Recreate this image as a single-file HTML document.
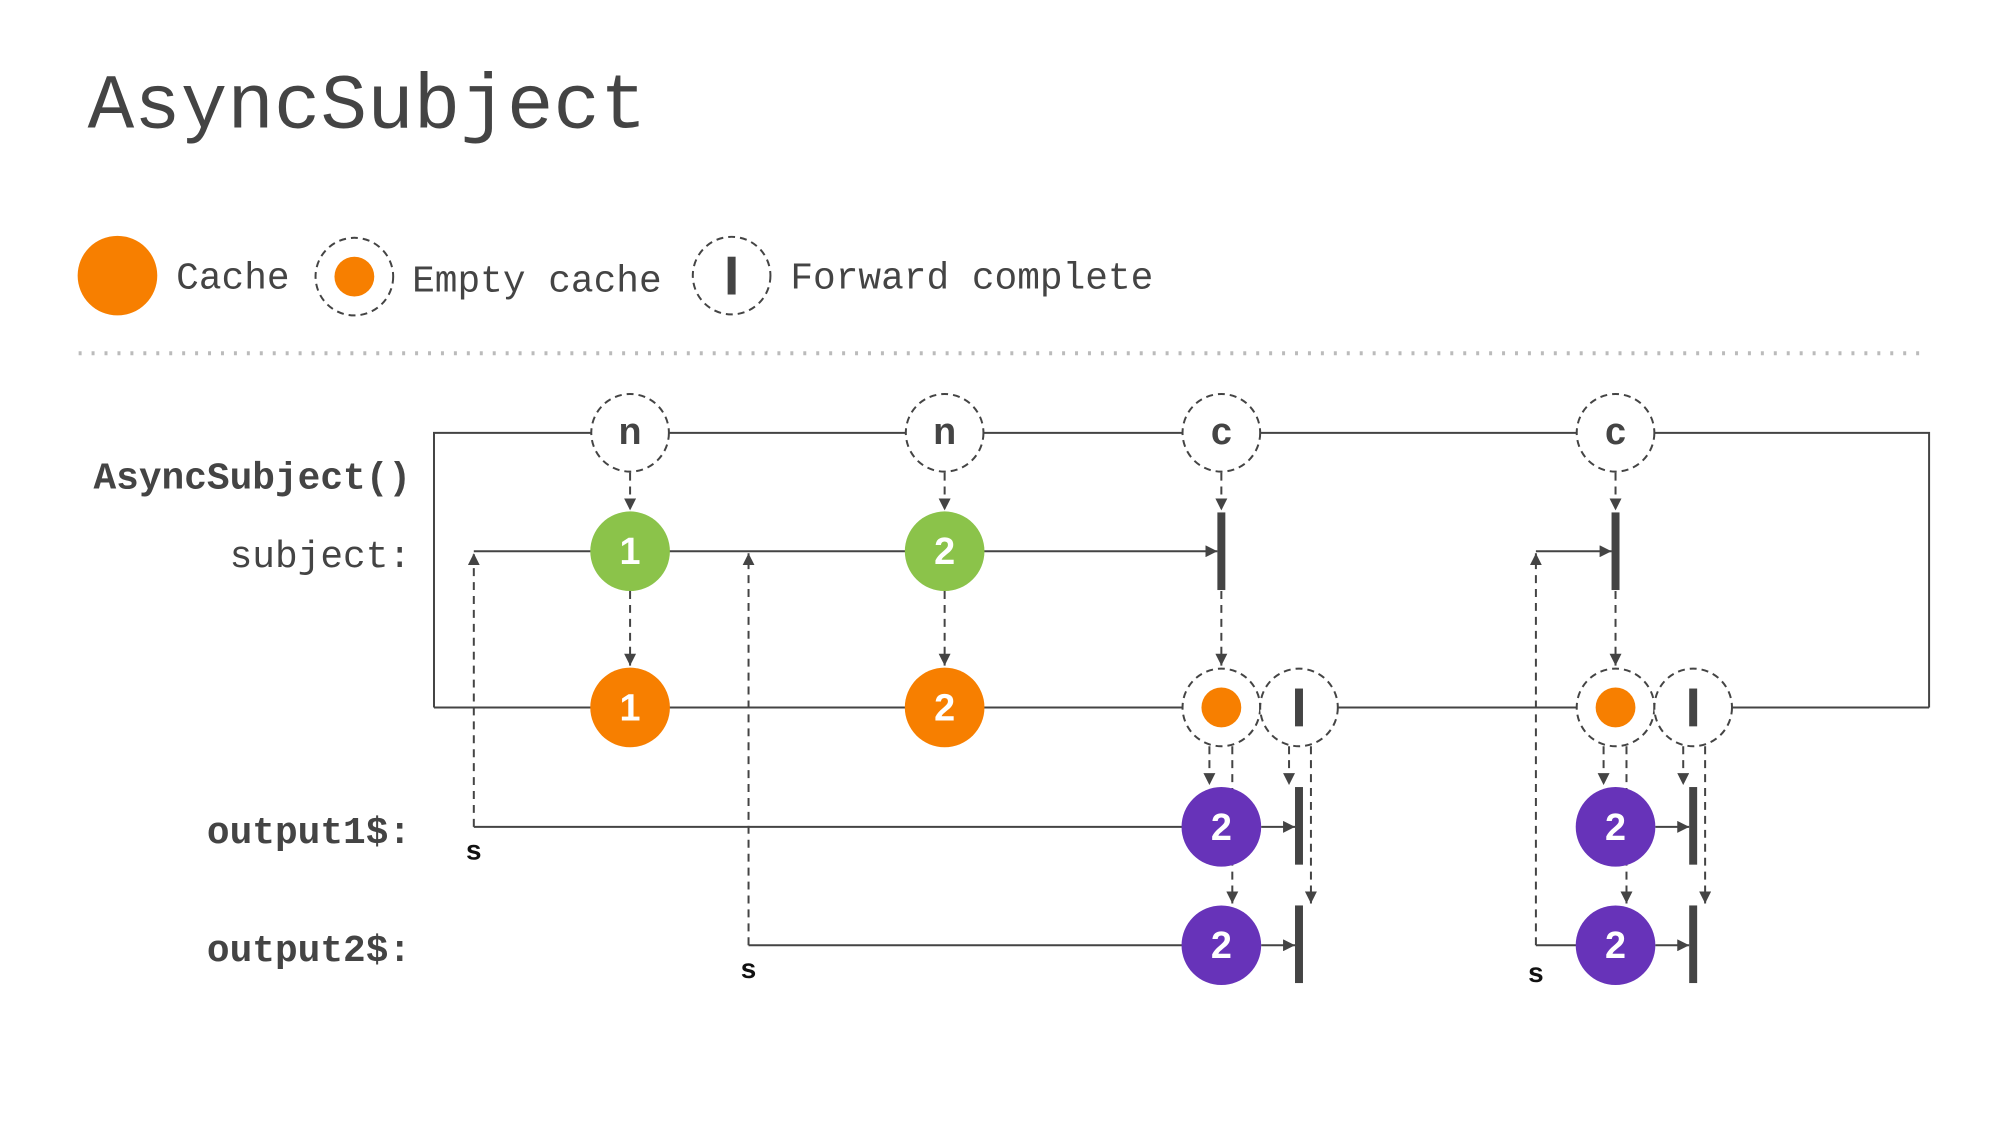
<!DOCTYPE html>
<html><head><meta charset="utf-8"><style>
html,body{margin:0;padding:0;background:#fff;}
svg{display:block;}
text{font-family:"Liberation Mono",monospace;}
</style></head><body>
<svg width="2000" height="1125" viewBox="0 0 2000 1125" xmlns="http://www.w3.org/2000/svg">
<defs>
<marker id="a" viewBox="0 0 10 10" refX="10" refY="5" markerWidth="12" markerHeight="12" markerUnits="userSpaceOnUse" orient="auto"><path d="M0,0L10,5L0,10z" fill="#444"/></marker>
</defs>
<g transform="scale(0.9954,0.995)">
<text x="88" y="128" font-size="78" fill="#444">AsyncSubject</text>
<circle cx="118" cy="277" r="40" fill="#f77f00"/>
<text x="177" y="290" font-size="38" fill="#444">Cache</text>
<circle cx="356" cy="278" r="39" fill="none" stroke="#444" stroke-width="2" stroke-dasharray="7,5"/>
<circle cx="356" cy="278" r="20" fill="#f77f00"/>
<text x="414" y="293" font-size="38" fill="#444">Empty cache</text>
<circle cx="735" cy="277" r="39" fill="none" stroke="#444" stroke-width="2" stroke-dasharray="7,5"/>
<rect x="731" y="258" width="8" height="38" fill="#444"/>
<text x="794" y="290" font-size="38" fill="#444">Forward complete</text>
<line x1="79" y1="355" x2="1938" y2="355" stroke="#bbb" stroke-width="4" stroke-dasharray="3,10"/>
<g font-size="38" fill="#444" text-anchor="end">
<text x="413" y="491" font-weight="bold">AsyncSubject()</text>
<text x="413" y="570">subject:</text>
<text x="413" y="847" font-weight="bold">output1$:</text>
<text x="413" y="966" font-weight="bold">output2$:</text>
</g>
<g stroke="#444" stroke-width="2" fill="none">
<polyline points="436,711 436,435 1938,435 1938,711"/>
<line x1="436" y1="711" x2="1938" y2="711"/>
<line x1="476" y1="554" x2="1223" y2="554" marker-end="url(#a)"/>
<line x1="1543" y1="554" x2="1619" y2="554" marker-end="url(#a)"/>
<line x1="476" y1="831" x2="1227" y2="831"/>
<line x1="1267" y1="831" x2="1301" y2="831" marker-end="url(#a)"/>
<line x1="752" y1="950" x2="1227" y2="950"/>
<line x1="1267" y1="950" x2="1301" y2="950" marker-end="url(#a)"/>
<line x1="1543" y1="950" x2="1600" y2="950"/>
<line x1="1663" y1="831" x2="1697" y2="831" marker-end="url(#a)"/>
<line x1="1663" y1="950" x2="1697" y2="950" marker-end="url(#a)"/>
</g>
<g stroke="#444" stroke-width="2" fill="none" stroke-dasharray="8,6">
<line x1="476" y1="831" x2="476" y2="556" marker-end="url(#a)"/>
<line x1="752" y1="950" x2="752" y2="556" marker-end="url(#a)"/>
<line x1="1543" y1="950" x2="1543" y2="556" marker-end="url(#a)"/>
<line x1="633" y1="475" x2="633" y2="513" marker-end="url(#a)"/>
<line x1="949" y1="475" x2="949" y2="513" marker-end="url(#a)"/>
<line x1="633" y1="594" x2="633" y2="669" marker-end="url(#a)"/>
<line x1="949" y1="594" x2="949" y2="669" marker-end="url(#a)"/>
<line x1="1227" y1="475" x2="1227" y2="513" marker-end="url(#a)"/>
<line x1="1623" y1="475" x2="1623" y2="513" marker-end="url(#a)"/>
<line x1="1227" y1="594" x2="1227" y2="669" marker-end="url(#a)"/>
<line x1="1623" y1="594" x2="1623" y2="669" marker-end="url(#a)"/>
<line x1="1215" y1="750" x2="1215" y2="789" marker-end="url(#a)"/>
<line x1="1238" y1="750" x2="1238" y2="908" marker-end="url(#a)"/>
<line x1="1295" y1="750" x2="1295" y2="789" marker-end="url(#a)"/>
<line x1="1317" y1="750" x2="1317" y2="908" marker-end="url(#a)"/>
<line x1="1611" y1="750" x2="1611" y2="789" marker-end="url(#a)"/>
<line x1="1634" y1="750" x2="1634" y2="908" marker-end="url(#a)"/>
<line x1="1691" y1="750" x2="1691" y2="789" marker-end="url(#a)"/>
<line x1="1713" y1="750" x2="1713" y2="908" marker-end="url(#a)"/>
</g>
<g fill="#fff" stroke="#444" stroke-width="2" stroke-dasharray="7,5">
<circle cx="633" cy="435" r="39"/><circle cx="949" cy="435" r="39"/>
<circle cx="1227" cy="435" r="39"/><circle cx="1623" cy="435" r="39"/>
<circle cx="1227" cy="711" r="39"/><circle cx="1305" cy="711" r="39"/>
<circle cx="1623" cy="711" r="39"/><circle cx="1701" cy="711" r="39"/>
</g>
<g font-weight="bold" font-size="38" fill="#444" text-anchor="middle">
<text x="633" y="446" style="font-family:'Liberation Sans',sans-serif">n</text>
<text x="949" y="446" style="font-family:'Liberation Sans',sans-serif">n</text>
<text x="1227" y="446" style="font-family:'Liberation Sans',sans-serif">c</text>
<text x="1623" y="446" style="font-family:'Liberation Sans',sans-serif">c</text>
</g>
<circle cx="1227" cy="711" r="20" fill="#f77f00"/>
<circle cx="1623" cy="711" r="20" fill="#f77f00"/>
<rect x="1301" y="692" width="8" height="38" fill="#444"/>
<rect x="1697" y="692" width="8" height="38" fill="#444"/>
<g fill="#444">
<rect x="1223" y="515" width="8" height="78"/>
<rect x="1619" y="515" width="8" height="78"/>
<rect x="1301" y="791" width="8" height="78"/>
<rect x="1301" y="910" width="8" height="78"/>
<rect x="1697" y="791" width="8" height="78"/>
<rect x="1697" y="910" width="8" height="78"/>
</g>
<circle cx="633" cy="554" r="40" fill="#8bc34a"/>
<circle cx="949" cy="554" r="40" fill="#8bc34a"/>
<circle cx="633" cy="711" r="40" fill="#f77f00"/>
<circle cx="949" cy="711" r="40" fill="#f77f00"/>
<circle cx="1227" cy="831" r="40" fill="#6733b9"/>
<circle cx="1227" cy="950" r="40" fill="#6733b9"/>
<circle cx="1623" cy="831" r="40" fill="#6733b9"/>
<circle cx="1623" cy="950" r="40" fill="#6733b9"/>
<g font-weight="bold" font-size="38" fill="#fff" text-anchor="middle">
<text x="633" y="567" style="font-family:'Liberation Sans',sans-serif">1</text>
<text x="949" y="567" style="font-family:'Liberation Sans',sans-serif">2</text>
<text x="633" y="724" style="font-family:'Liberation Sans',sans-serif">1</text>
<text x="949" y="724" style="font-family:'Liberation Sans',sans-serif">2</text>
<text x="1227" y="844" style="font-family:'Liberation Sans',sans-serif">2</text>
<text x="1227" y="963" style="font-family:'Liberation Sans',sans-serif">2</text>
<text x="1623" y="844" style="font-family:'Liberation Sans',sans-serif">2</text>
<text x="1623" y="963" style="font-family:'Liberation Sans',sans-serif">2</text>
</g>
<g font-weight="bold" font-size="28" fill="#111" text-anchor="middle">
<text x="476" y="864" style="font-family:'Liberation Sans',sans-serif">s</text>
<text x="752" y="983" style="font-family:'Liberation Sans',sans-serif">s</text>
<text x="1543" y="987" style="font-family:'Liberation Sans',sans-serif">s</text>
</g>
</g>
</svg>
</body></html>
